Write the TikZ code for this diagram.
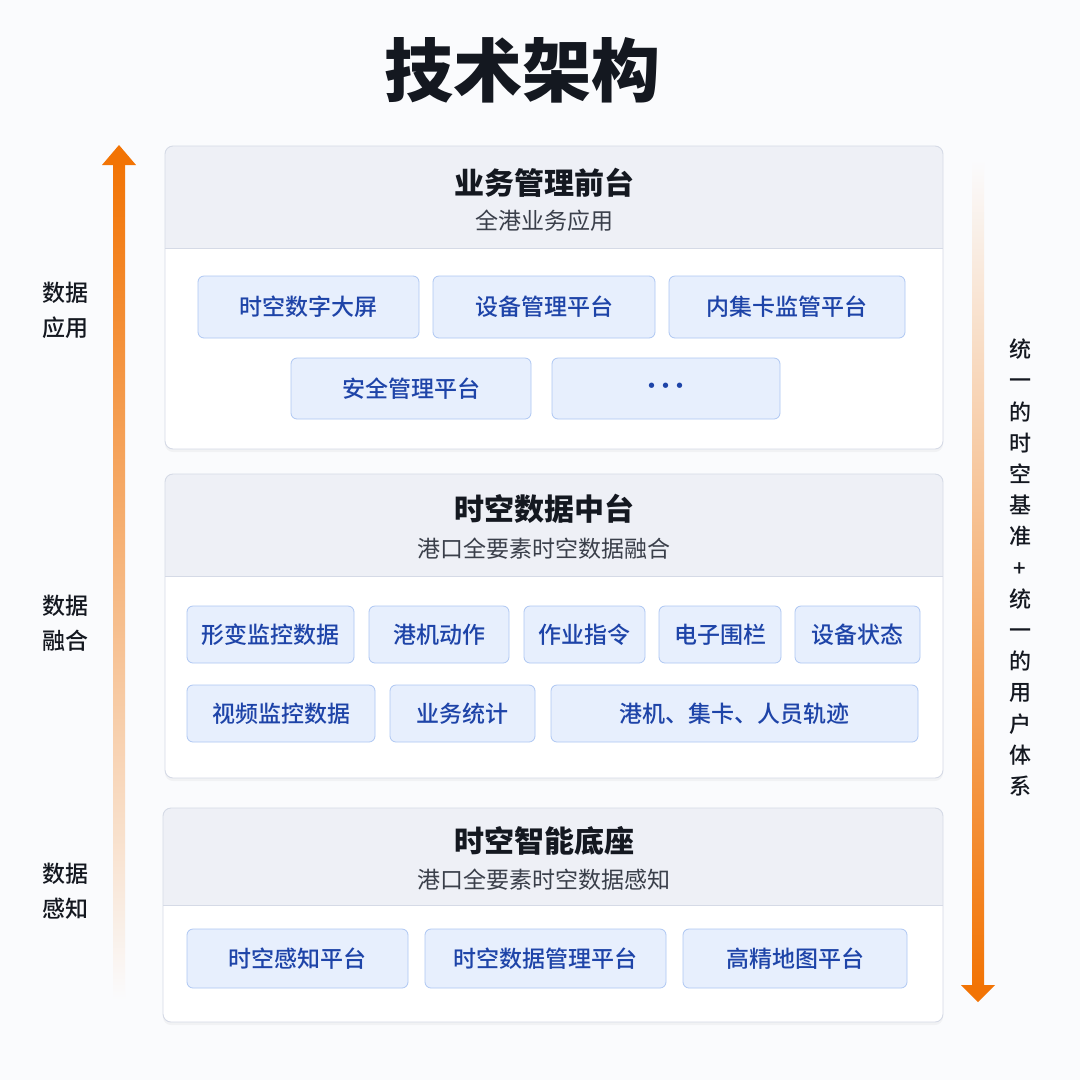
\documentclass[tikz,border=0pt]{standalone}
\usepackage{fontspec}
\setmainfont{Noto Sans CJK SC}
\newfontfamily\cjkmed{Noto Sans CJK SC}[UprightFont={* Medium}]
\usetikzlibrary{shadows}
\definecolor{bgcol}{HTML}{FAFBFD}
\definecolor{panelline}{HTML}{D5DAE6}
\definecolor{headfill}{HTML}{EEF0F6}
\definecolor{cellfill}{HTML}{E7EFFD}
\definecolor{cellline}{HTML}{AEC7F3}
\definecolor{celltext}{HTML}{1E44A8}
\definecolor{titletext}{HTML}{141820}
\definecolor{subtext}{HTML}{3A3F4A}
\definecolor{arroworange}{HTML}{F27405}
\begin{document}
\begin{tikzpicture}[x=1pt,y=-1pt,
	panel/.style={fill=white, rounded corners=8pt, outer sep=0pt, inner sep=0pt,
		drop shadow={opacity=0.07, shadow xshift=0pt, shadow yshift=-3pt}},
	rim/.style={draw=panelline, line width=0.9pt, rounded corners=8pt},
	head/.style={font=\bfseries\fontsize{30}{34}\selectfont, text=titletext},
	sub/.style={font=\fontsize{23}{26}\selectfont, text=subtext},
	cell/.style={draw=cellline, fill=cellfill, rounded corners=6pt, line width=0.8pt,
		outer sep=0pt, inner sep=0pt, text=celltext, font=\cjkmed\fontsize{23}{26}\selectfont},
	side/.style={align=center, text=titletext, font=\cjkmed\fontsize{23}{35}\selectfont}]
	\useasboundingbox (0,0) rectangle (1080,1080);
	\fill[bgcol] (0,0) rectangle (1080,1080);

	% title
	\node[font=\bfseries\fontsize{69}{74}\selectfont, text=titletext] (title) at (522,70) {技术架构};

	% arrows
	\shade[top color=arroworange, bottom color=bgcol] (113,164) rectangle (125,1000);
	\fill[arroworange] (102,165) -- (119,145) -- (136,165) -- cycle;
	\shade[top color=bgcol, bottom color=arroworange] (972,160) rectangle (984,986);
	\fill[arroworange] (961,985) -- (978,1002) -- (995,985) -- cycle;

	% panels
	\node[panel, minimum width=778pt, minimum height=303pt] (pa) at (554,297.5) {};
	\node[panel, minimum width=778pt, minimum height=304pt] (pb) at (554,626) {};
	\node[panel, minimum width=780pt, minimum height=214pt] (pc) at (553,915) {};
	\begin{scope}
		\clip[rounded corners=8pt] (pa.north west) rectangle (pa.south east);
		\fill[headfill] (pa.north west) rectangle (943,248);
	\end{scope}
	\begin{scope}
		\clip[rounded corners=8pt] (pb.north west) rectangle (pb.south east);
		\fill[headfill] (pb.north west) rectangle (943,576);
	\end{scope}
	\begin{scope}
		\clip[rounded corners=8pt] (pc.north west) rectangle (pc.south east);
		\fill[headfill] (pc.north west) rectangle (943,905);
	\end{scope}
	\draw[panelline, line width=0.9pt] (pa.west |- 0,248) -- (pa.east |- 0,248);
	\draw[panelline, line width=0.9pt] (pb.west |- 0,576) -- (pb.east |- 0,576);
	\draw[panelline, line width=0.9pt] (pc.west |- 0,905) -- (pc.east |- 0,905);
	\draw[rim] (pa.north west) rectangle (pa.south east);
	\draw[rim] (pb.north west) rectangle (pb.south east);
	\draw[rim] (pc.north west) rectangle (pc.south east);

	% headers
	\node[head] (ha) at (544,183) {业务管理前台};
	\node[sub] (sa) at (544,221) {全港业务应用};
	\node[head] (hb) at (544,509) {时空数据中台};
	\node[sub] (sb) at (544,549) {港口全要素时空数据融合};
	\node[head] (hc) at (544,841) {时空智能底座};
	\node[sub] (sc) at (544,880) {港口全要素时空数据感知};

	% front end
	\node[cell, minimum width=221pt, minimum height=62pt] (a1) at (308.5,307) {时空数字大屏};
	\node[cell, minimum width=222pt, minimum height=62pt] (a2) at (544,307) {设备管理平台};
	\node[cell, minimum width=236pt, minimum height=62pt] (a3) at (787,307) {内集卡监管平台};
	\node[cell, minimum width=240pt, minimum height=61pt] (a4) at (411,388.5) {安全管理平台};
	\node[cell, minimum width=228pt, minimum height=61pt] (a5) at (666,388.5) {·\kern-9pt·\kern-9pt·};

	% data middle
	\node[cell, minimum width=167pt, minimum height=57pt] (b1) at (270.5,634.5) {形变监控数据};
	\node[cell, minimum width=140pt, minimum height=57pt] (b2) at (439,634.5) {港机动作};
	\node[cell, minimum width=121pt, minimum height=57pt] (b3) at (584.5,634.5) {作业指令};
	\node[cell, minimum width=122pt, minimum height=57pt] (b4) at (720,634.5) {电子围栏};
	\node[cell, minimum width=125pt, minimum height=57pt] (b5) at (857.5,634.5) {设备状态};
	\node[cell, minimum width=188pt, minimum height=57pt] (b6) at (281,713.5) {视频监控数据};
	\node[cell, minimum width=145pt, minimum height=57pt] (b7) at (462.5,713.5) {业务统计};
	\node[cell, minimum width=367pt, minimum height=57pt] (b8) at (734.5,713.5) {港机、集卡、人员轨迹};

	% base
	\node[cell, minimum width=221pt, minimum height=59pt] (c1) at (297.5,958.5) {时空感知平台};
	\node[cell, minimum width=241pt, minimum height=59pt] (c2) at (545.5,958.5) {时空数据管理平台};
	\node[cell, minimum width=224pt, minimum height=59pt] (c3) at (795,958.5) {高精地图平台};

	% side labels
	\node[side] (la) at (65,310) {数据\\应用};
	\node[side] (lb) at (65,623) {数据\\融合};
	\node[side] (lc) at (65,891) {数据\\感知};
	\node[side, font=\cjkmed\fontsize{22}{31.2}\selectfont] (rt) at (1020,567.5)
		{统\\一\\的\\时\\空\\基\\准\\+\\统\\一\\的\\用\\户\\体\\系};
\end{tikzpicture}
\end{document}
